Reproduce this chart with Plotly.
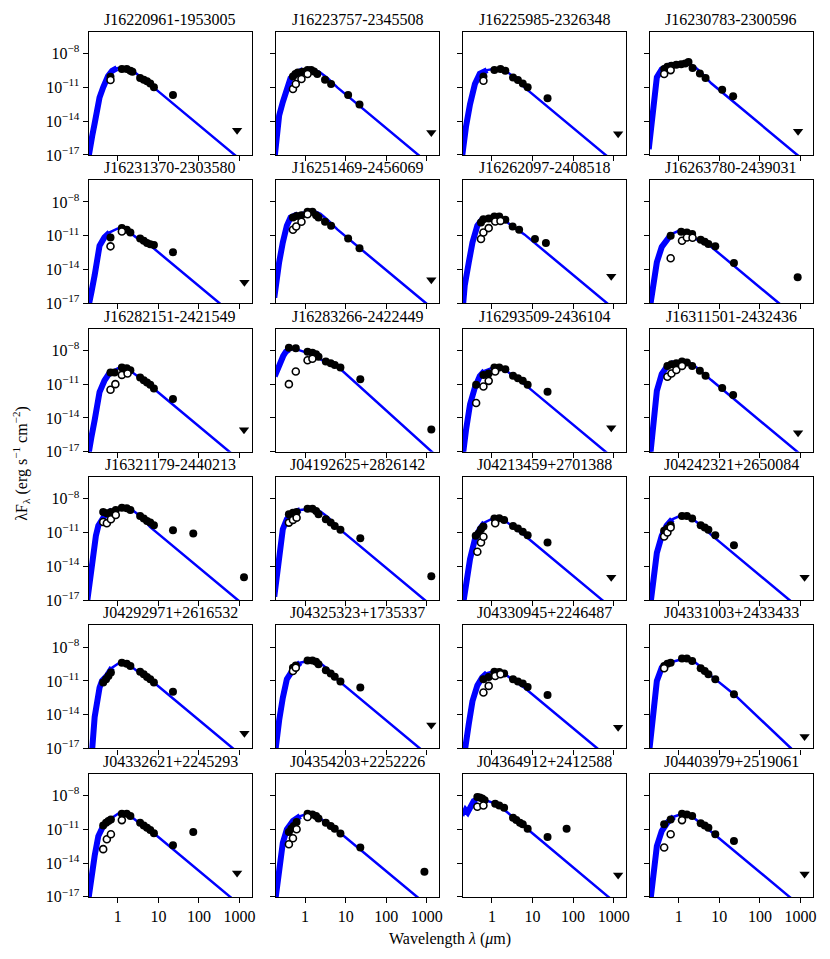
import plotly.graph_objects as go

W, H = 830, 959

TITLES = [
    "J16220961-1953005", "J16223757-2345508", "J16225985-2326348", "J16230783-2300596",
    "J16231370-2303580", "J16251469-2456069", "J16262097-2408518", "J16263780-2439031",
    "J16282151-2421549", "J16283266-2422449", "J16293509-2436104", "J16311501-2432436",
    "J16321179-2440213", "J04192625+2826142", "J04213459+2701388", "J04242321+2650084",
    "J04292971+2616532", "J04325323+1735337", "J04330945+2246487", "J04331003+2433433",
    "J04332621+2245293", "J04354203+2252226", "J04364912+2412588", "J04403979+2519061",
]

# photosphere model curves: log10(wavelength / um), log10(lambda F_lambda)
MODEL_LOGLAM = [
    [-0.74, -0.72, -0.63, -0.57, -0.51, -0.45, -0.36, -0.24, -0.14, -0.02, 0.10, 0.22, 0.36, 0.55, 0.80, 2.88, 2.98],
    [-0.76, -0.73, -0.64, -0.55, -0.45, -0.36, -0.20, -0.05, 0.10, 0.22, 0.36, 0.55, 0.80, 2.79, 2.89],
    [-0.74, -0.71, -0.64, -0.54, -0.42, -0.30, -0.12, 0.10, 0.22, 0.36, 0.55, 0.80, 2.80, 2.90],
    [-0.74, -0.69, -0.60, -0.54, -0.42, -0.18, 0.12, 0.24, 0.38, 0.55, 0.80, 2.92, 3.02],
    [-0.74, -0.72, -0.65, -0.57, -0.51, -0.45, -0.33, -0.20, 0.0, 0.12, 0.26, 0.45, 0.70, 2.51, 2.61],
    [-0.76, -0.73, -0.64, -0.55, -0.45, -0.36, -0.18, 0.12, 0.24, 0.38, 0.55, 0.80, 2.98, 3.08],
    [-0.72, -0.67, -0.57, -0.48, -0.36, -0.24, 0.06, 0.18, 0.32, 0.51, 0.80, 2.84, 2.94],
    [-0.72, -0.69, -0.60, -0.54, -0.42, -0.30, -0.18, 0.0, 0.12, 0.26, 0.45, 0.70, 2.47, 2.57],
    [-0.74, -0.72, -0.65, -0.57, -0.51, -0.45, -0.33, -0.20, 0.04, 0.16, 0.30, 0.49, 0.80, 2.75, 2.85],
    [-0.75, -0.72, -0.66, -0.60, -0.54, -0.47, -0.40, -0.30, -0.15, 0.0, 0.2, 0.45, 0.85, 3.12, 3.3],
    [-0.74, -0.71, -0.64, -0.54, -0.42, -0.30, -0.18, 0.06, 0.18, 0.32, 0.51, 0.80, 2.80, 2.90],
    [-0.72, -0.69, -0.63, -0.54, -0.42, -0.30, -0.12, 0.06, 0.18, 0.32, 0.51, 0.80, 2.92, 3.02],
    [-0.75, -0.72, -0.63, -0.54, -0.48, -0.33, -0.14, 0.10, 0.22, 0.36, 0.55, 0.80, 2.96, 3.06],
    [-0.76, -0.73, -0.64, -0.55, -0.45, -0.30, -0.12, 0.12, 0.24, 0.38, 0.57, 0.80, 2.95, 3.05],
    [-0.74, -0.71, -0.64, -0.54, -0.42, -0.30, -0.18, 0.06, 0.18, 0.32, 0.51, 0.80, 2.72, 2.82],
    [-0.72, -0.69, -0.63, -0.54, -0.42, -0.30, -0.16, 0.06, 0.18, 0.32, 0.51, 0.80, 2.73, 2.83],
    [-0.72, -0.63, -0.57, -0.51, -0.45, -0.39, -0.27, -0.14, 0.04, 0.16, 0.30, 0.49, 0.80, 2.84, 2.94],
    [-0.76, -0.73, -0.64, -0.55, -0.45, -0.30, -0.12, 0.12, 0.24, 0.38, 0.57, 0.80, 2.83, 2.93],
    [-0.70, -0.67, -0.57, -0.48, -0.36, -0.24, -0.12, 0.06, 0.18, 0.32, 0.51, 0.80, 2.60, 2.70],
    [-0.72, -0.69, -0.63, -0.54, -0.42, -0.24, 0.12, 0.24, 0.38, 0.57, 0.80, 1.36, 2.77, 2.87],
    [-0.74, -0.72, -0.63, -0.57, -0.48, -0.36, -0.20, 0.04, 0.16, 0.30, 0.49, 0.80, 2.77, 2.87],
    [-0.76, -0.73, -0.64, -0.55, -0.45, -0.30, -0.12, 0.06, 0.18, 0.32, 0.51, 0.80, 2.76, 2.86],
    [-0.75, -0.72, -0.69, -0.65, -0.60, -0.55, -0.50, -0.45, -0.38, -0.30, -0.18, 0.0, 0.2, 0.4, 0.6, 0.88, 2.87, 2.97],
    [-0.72, -0.69, -0.63, -0.54, -0.42, -0.28, -0.12, 0.08, 0.20, 0.34, 0.53, 0.80, 2.73, 2.83],
]
MODEL_LOGF = [
    [-17.6, -17.0, -15.3, -14.2, -12.8, -11.9, -11.0, -10.0, -9.53, -9.29, -9.24, -9.30, -9.50, -10.03, -10.76, -17.0, -17.3],
    [-17.5, -16.5, -13.5, -12.3, -11.0, -10.2, -9.7, -9.45, -9.38, -9.43, -9.64, -10.17, -11.03, -17.0, -17.3],
    [-17.3, -16.1, -14.5, -12.5, -10.7, -9.8, -9.47, -9.32, -9.36, -9.58, -10.11, -11.0, -17.0, -17.3],
    [-16.5, -14.8, -11.6, -10.1, -9.4, -9.0, -8.88, -8.92, -9.14, -9.67, -10.64, -17.0, -17.3],
    [-17.6, -17.0, -16.0, -14.5, -12.8, -11.9, -11.15, -10.7, -10.35, -10.39, -10.61, -11.14, -11.57, -17.0, -17.3],
    [-16.5, -15.4, -13.35, -11.6, -10.1, -9.38, -9.09, -8.79, -8.83, -9.05, -9.58, -10.46, -17.0, -17.3],
    [-17.5, -15.4, -13.35, -11.6, -10.1, -9.53, -9.38, -9.42, -9.64, -10.17, -10.88, -17.0, -17.3],
    [-17.6, -17.0, -14.8, -13.35, -12.0, -11.3, -10.85, -10.56, -10.6, -10.82, -11.35, -11.69, -17.0, -17.3],
    [-17.6, -17.0, -15.7, -14.2, -12.9, -11.7, -10.7, -9.97, -9.53, -9.57, -9.79, -10.32, -11.15, -17.0, -17.3],
    [-10.3, -10.0, -9.4, -8.9, -8.5, -8.1, -7.92, -7.9, -7.98, -8.15, -8.5, -8.95, -9.6, -17.0, -17.6],
    [-18.0, -17.0, -15.1, -12.8, -11.3, -10.3, -9.82, -9.47, -9.51, -9.73, -10.26, -11.0, -17.0, -17.3],
    [-17.9, -16.9, -14.5, -11.6, -10.1, -9.47, -9.09, -8.94, -8.98, -9.2, -9.73, -10.64, -17.0, -17.3],
    [-17.0, -16.15, -13.06, -11.3, -10.4, -9.53, -9.0, -8.74, -8.78, -9.0, -9.53, -10.52, -17.0, -17.3],
    [-16.7, -15.7, -13.06, -10.7, -9.82, -9.24, -9.0, -8.88, -8.92, -9.14, -9.67, -10.55, -17.0, -17.3],
    [-18.0, -17.0, -15.7, -13.35, -11.6, -10.7, -10.1, -9.68, -9.72, -9.94, -10.47, -11.24, -17.0, -17.3],
    [-18.0, -17.0, -14.8, -12.8, -11.3, -10.4, -9.82, -9.47, -9.51, -9.73, -10.26, -11.21, -17.0, -17.3],
    [-18.0, -17.0, -14.2, -12.5, -11.6, -11.0, -10.56, -9.82, -9.38, -9.42, -9.64, -10.17, -10.88, -17.0, -17.3],
    [-18.0, -17.0, -14.5, -12.5, -10.85, -10.0, -9.38, -9.18, -9.22, -9.44, -9.97, -10.91, -17.0, -17.3],
    [-18.0, -17.0, -14.8, -12.8, -11.4, -10.7, -10.3, -10.12, -10.16, -10.38, -10.91, -11.6, -17.0, -17.3],
    [-17.0, -16.0, -13.06, -11.0, -9.82, -9.38, -9.03, -9.07, -9.29, -9.82, -10.55, -12.18, -17.0, -17.3],
    [-17.6, -17.0, -15.1, -13.35, -11.6, -10.7, -10.12, -9.53, -9.57, -9.79, -10.32, -11.09, -17.0, -17.3],
    [-18.0, -17.0, -14.2, -12.2, -11.0, -10.26, -9.82, -9.62, -9.66, -9.88, -10.41, -11.12, -17.0, -17.3],
    [-9.8, -9.4, -9.6, -9.3, -9.5, -9.1, -8.7, -8.5, -8.4, -8.35, -8.40, -8.6, -9.0, -9.55, -10.2, -11.0, -17.0, -17.3],
    [-18.0, -17.0, -14.8, -12.5, -11.15, -10.4, -9.88, -9.62, -9.66, -9.88, -10.41, -11.21, -17.0, -17.3],
]

# detections (filled circles)
FILLED_LOGLAM = [
    [-0.18, 0.10, 0.22, 0.31, 0.36, 0.55, 0.64, 0.72, 0.80, 0.89, 1.36],
    [-0.30, -0.24, -0.18, -0.06, 0.06, 0.15, 0.22, 0.30, 0.49, 0.64, 1.06, 1.34],
    [-0.21, 0.06, 0.21, 0.33, 0.52, 0.64, 0.76, 0.88, 1.37],
    [-0.36, -0.28, -0.18, -0.06, 0.06, 0.16, 0.24, 0.34, 0.52, 0.66, 1.07, 1.34],
    [-0.18, 0.10, 0.22, 0.31, 0.55, 0.64, 0.72, 0.80, 0.89, 1.36],
    [-0.30, -0.21, -0.09, 0.06, 0.18, 0.27, 0.33, 0.49, 0.64, 1.06, 1.34],
    [-0.27, -0.21, -0.08, 0.06, 0.18, 0.33, 0.51, 0.67, 1.06, 1.33],
    [-0.20, 0.06, 0.20, 0.33, 0.54, 0.64, 0.73, 0.90, 1.36, 2.93],
    [-0.18, -0.08, 0.10, 0.22, 0.31, 0.55, 0.64, 0.72, 0.80, 0.89, 1.36],
    [-0.40, -0.23, 0.06, 0.18, 0.27, 0.33, 0.51, 0.63, 0.73, 0.87, 1.36, 3.11],
    [-0.39, -0.21, -0.08, 0.06, 0.18, 0.33, 0.52, 0.64, 0.76, 0.88, 1.37],
    [-0.28, -0.18, -0.06, 0.08, 0.20, 0.33, 0.52, 0.66, 1.07, 1.34],
    [-0.36, -0.27, -0.17, -0.05, 0.10, 0.22, 0.31, 0.55, 0.64, 0.72, 0.80, 0.89, 1.36, 1.86, 3.11],
    [-0.40, -0.30, -0.21, 0.06, 0.18, 0.27, 0.33, 0.51, 0.63, 0.73, 0.87, 1.36, 3.11],
    [-0.40, -0.33, -0.27, -0.21, 0.06, 0.18, 0.30, 0.52, 0.64, 0.76, 0.88, 1.37],
    [-0.36, -0.28, -0.20, 0.08, 0.20, 0.33, 0.54, 0.64, 0.73, 0.90, 1.36],
    [-0.36, -0.29, -0.23, -0.17, 0.10, 0.22, 0.31, 0.55, 0.64, 0.72, 0.80, 0.89, 1.36],
    [-0.30, -0.23, 0.06, 0.18, 0.27, 0.33, 0.51, 0.63, 0.73, 0.87, 1.36],
    [-0.21, -0.08, 0.06, 0.18, 0.30, 0.52, 0.64, 0.76, 0.88, 1.37],
    [-0.36, -0.28, -0.20, 0.08, 0.20, 0.33, 0.54, 0.64, 0.73, 0.90, 1.36],
    [-0.36, -0.29, -0.23, -0.17, 0.10, 0.22, 0.31, 0.55, 0.64, 0.72, 0.80, 0.89, 1.36, 1.86],
    [-0.40, -0.34, -0.28, -0.21, 0.06, 0.18, 0.27, 0.33, 0.51, 0.63, 0.73, 0.87, 1.36, 2.94],
    [-0.36, -0.30, -0.24, -0.18, 0.08, 0.18, 0.30, 0.52, 0.60, 0.69, 0.76, 0.88, 1.37, 1.84],
    [-0.36, -0.20, 0.08, 0.20, 0.33, 0.54, 0.64, 0.73, 0.90, 1.36],
]
FILLED_LOGF = [
    [-10.06, -9.38, -9.38, -9.53, -9.62, -10.18, -10.32, -10.47, -10.65, -11.0, -11.68],
    [-10.03, -9.82, -9.68, -9.62, -9.47, -9.47, -9.59, -9.82, -10.32, -10.71, -11.68, -12.53],
    [-10.03, -9.47, -9.38, -9.53, -10.12, -10.35, -10.65, -11.0, -11.97],
    [-9.38, -9.18, -9.09, -9.0, -8.94, -8.88, -8.74, -9.29, -9.76, -10.18, -11.21, -11.79],
    [-11.15, -10.32, -10.47, -10.71, -11.24, -11.44, -11.65, -11.76, -11.82, -12.47],
    [-9.38, -9.24, -9.18, -8.88, -8.88, -9.18, -9.38, -9.76, -10.12, -11.24, -12.12],
    [-9.82, -9.53, -9.47, -9.29, -9.29, -9.59, -10.18, -10.47, -11.29, -11.65],
    [-11.0, -10.65, -10.71, -10.85, -11.35, -11.53, -11.74, -11.94, -13.41, -14.68],
    [-9.97, -9.97, -9.53, -9.59, -9.76, -10.41, -10.65, -10.85, -11.06, -11.38, -12.32],
    [-7.76, -7.82, -8.12, -8.21, -8.35, -8.56, -9.0, -9.15, -9.29, -9.53, -10.56, -15.03],
    [-11.06, -10.18, -10.06, -9.53, -9.53, -9.68, -10.26, -10.47, -10.71, -11.06, -11.68],
    [-9.38, -9.24, -9.15, -9.0, -9.09, -9.38, -9.82, -10.26, -11.35, -11.97],
    [-9.18, -9.29, -9.18, -9.0, -8.79, -8.85, -9.0, -9.53, -9.76, -9.97, -10.12, -10.35, -10.79, -11.09, -14.97],
    [-9.38, -9.24, -9.18, -8.88, -8.88, -9.09, -9.38, -9.82, -10.12, -10.41, -10.76, -11.5, -14.88],
    [-11.29, -11.09, -10.71, -10.47, -9.76, -9.74, -9.88, -10.41, -10.65, -10.94, -11.24, -11.88],
    [-10.85, -10.65, -10.35, -9.53, -9.53, -9.76, -10.35, -10.56, -10.76, -11.24, -12.12],
    [-11.15, -10.85, -10.56, -10.26, -9.38, -9.47, -9.68, -10.18, -10.41, -10.65, -10.85, -11.15, -11.97],
    [-9.82, -9.62, -9.18, -9.18, -9.29, -9.53, -10.06, -10.35, -10.62, -11.06, -11.59],
    [-10.85, -10.65, -10.18, -10.21, -10.35, -10.85, -11.06, -11.24, -11.53, -12.26],
    [-9.68, -9.47, -9.38, -9.0, -9.0, -9.24, -9.88, -10.12, -10.41, -10.85, -12.18],
    [-10.65, -10.41, -10.26, -10.12, -9.62, -9.62, -9.82, -10.41, -10.65, -10.85, -11.06, -11.35, -12.41, -11.24],
    [-11.24, -10.94, -10.71, -10.35, -9.62, -9.68, -9.82, -10.03, -10.41, -10.71, -10.94, -11.38, -12.62, -14.76],
    [-8.12, -8.18, -8.26, -8.41, -8.74, -8.88, -9.09, -9.97, -10.18, -10.41, -10.56, -10.94, -11.68, -10.94],
    [-10.56, -10.12, -9.62, -9.68, -9.82, -10.47, -10.65, -10.85, -11.44, -12.03],
]

# open circles
OPEN_LOGLAM = [
    [-0.18], [-0.30, -0.23, -0.09, 0.06], [-0.21], [-0.36, -0.20],
    [-0.18, 0.10], [-0.30, -0.22, -0.09, 0.06], [-0.27, -0.21, -0.08, 0.08, 0.21], [-0.20, 0.08, 0.20, 0.34],
    [-0.18, -0.06, 0.10, 0.24], [-0.40, -0.23, 0.06, 0.18], [-0.39, -0.21, -0.08, 0.08], [-0.28, -0.18, -0.06, 0.08],
    [-0.36, -0.27, -0.17, -0.05], [-0.40, -0.30, -0.21], [-0.36, -0.27, -0.21, 0.08], [-0.36, -0.28, -0.20],
    [], [-0.30, -0.23], [-0.21, -0.08, 0.08, 0.21], [-0.36],
    [-0.36, -0.27, -0.17, 0.10], [-0.40, -0.30, -0.21, 0.06], [-0.36, -0.21], [-0.36, -0.20, 0.08],
]
OPEN_LOGF = [
    [-10.35], [-11.15, -10.71, -10.26, -9.82], [-10.41], [-9.82, -9.47],
    [-11.94, -10.62], [-10.47, -10.18, -9.76, -9.09], [-11.29, -10.71, -10.32, -9.74, -9.68], [-13.0, -11.44, -11.15, -11.18],
    [-11.5, -11.0, -10.18, -10.06], [-11.0, -9.88, -8.88, -8.74], [-12.68, -11.21, -10.71, -9.88], [-10.35, -10.06, -9.74, -9.38],
    [-10.06, -10.18, -9.82, -9.44], [-10.12, -9.88, -9.68], [-12.71, -11.88, -11.38, -10.18], [-11.35, -11.0, -10.56],
    [], [-10.12, -9.82], [-12.03, -11.44, -10.56, -10.41], [-9.88],
    [-12.76, -11.88, -11.44, -10.18], [-12.32, -11.79, -11.0, -9.91], [-9.0, -8.88], [-12.62, -11.44, -10.18],
]

# upper limits (downward triangles)
LIMIT_LOGLAM = [
    [2.94], [3.11], [3.11], [2.94],
    [3.12], [3.11], [2.94], [],
    [3.11], [], [2.94], [2.94],
    [], [], [2.94], [3.10],
    [3.12], [3.11], [3.11], [3.10],
    [2.94], [], [3.11], [3.10],
]
LIMIT_LOGF = [
    [-14.8], [-15.0], [-15.12], [-14.91],
    [-15.12], [-14.91], [-14.59], [],
    [-15.06], [], [-14.88], [-15.32],
    [], [], [-14.97], [-14.97],
    [-15.65], [-14.91], [-15.12], [-15.94],
    [-14.88], [], [-15.06], [-14.97],
]

X_TICKS = [1, 10, 100, 1000]
X_TICKTEXT = ["1", "10", "100", "1000"]
Y_TICKS = [1e-8, 1e-11, 1e-14, 1e-17]
Y_TICKTEXT = ["10<sup>\u22128</sup>", "10<sup>\u221211</sup>", "10<sup>\u221214</sup>", "10<sup>\u221217</sup>"]

FONT = "Liberation Serif"
COL_LEFT = [81, 269, 456.5, 644]
PANEL_W = 164
ROW_TOP = [24 + 149.8 * k for k in range(6)]
PANEL_H = 124.3
BLUE = "#0000ff"


def lin(vals):
    return [10 ** v for v in vals]


fig = go.Figure()
layout = dict(
    width=W, height=H, margin=dict(l=0, r=0, t=0, b=0),
    paper_bgcolor="white", plot_bgcolor="white", showlegend=False,
    font=dict(family=FONT, size=16, color="black"),
)
annotations = []

for i in range(24):
    r, c = divmod(i, 4)
    sfx = "" if i == 0 else str(i + 1)
    xa, ya = "x" + sfx, "y" + sfx
    x0 = COL_LEFT[c] / W
    x1 = (COL_LEFT[c] + PANEL_W) / W
    y1 = 1 - ROW_TOP[r] / H
    y0 = 1 - (ROW_TOP[r] + PANEL_H) / H
    common = dict(showline=True, mirror=True, linecolor="black", linewidth=1.3,
                  ticks="outside", ticklen=5, tickwidth=1.2, tickcolor="black",
                  showgrid=False, zeroline=False, type="log",
                  tickfont=dict(family=FONT, size=16, color="black"))
    layout["xaxis" + sfx] = dict(common, domain=[x0, x1], anchor=ya,
                                 range=[-0.717, 3.31], tickvals=X_TICKS, ticktext=X_TICKTEXT,
                                 showticklabels=(r == 5))
    layout["yaxis" + sfx] = dict(common, domain=[y0, y1], anchor=xa,
                                 range=[-17, -6.065], tickvals=Y_TICKS, ticktext=Y_TICKTEXT,
                                 showticklabels=(c == 0))

    ml, mf = MODEL_LOGLAM[i], MODEL_LOGF[i]
    k = mf.index(max(mf))
    # broad (line-blanketed) rising short-wavelength part of the photosphere model
    fig.add_trace(go.Scatter(x=lin(ml[:k]), y=lin(mf[:k]), mode="lines",
                             line=dict(color=BLUE, width=6), xaxis=xa, yaxis=ya,
                             hoverinfo="skip"))
    fig.add_trace(go.Scatter(x=lin(ml), y=lin(mf), mode="lines",
                             line=dict(color=BLUE, width=2.5), xaxis=xa, yaxis=ya))
    fig.add_trace(go.Scatter(x=lin(FILLED_LOGLAM[i]), y=lin(FILLED_LOGF[i]), mode="markers",
                             marker=dict(color="black", size=8, symbol="circle"),
                             xaxis=xa, yaxis=ya, cliponaxis=False))
    if OPEN_LOGLAM[i]:
        fig.add_trace(go.Scatter(x=lin(OPEN_LOGLAM[i]), y=lin(OPEN_LOGF[i]), mode="markers",
                                 marker=dict(color="white", size=7, symbol="circle",
                                             line=dict(color="black", width=1.6)),
                                 xaxis=xa, yaxis=ya))
    if LIMIT_LOGLAM[i]:
        fig.add_trace(go.Scatter(x=lin(LIMIT_LOGLAM[i]), y=lin(LIMIT_LOGF[i]), mode="markers",
                                 marker=dict(color="black", size=9, symbol="triangle-down"),
                                 xaxis=xa, yaxis=ya))

    annotations.append(dict(text=TITLES[i], xref="paper", yref="paper",
                            x=(x0 + x1) / 2, y=y1 + 2 / H, xanchor="center", yanchor="bottom",
                            showarrow=False, font=dict(family=FONT, size=16, color="black")))

annotations.append(dict(text="Wavelength <i>\u03bb</i> (<i>\u03bc</i>m)", xref="paper", yref="paper",
                        x=444 / W, y=1 - 940 / H, xanchor="center", yanchor="middle",
                        showarrow=False, font=dict(family=FONT, size=16, color="black")))
annotations.append(dict(text="\u03bbF<sub>\u03bb</sub> (erg s<sup>\u22121</sup> cm<sup>\u22122</sup>)",
                        xref="paper", yref="paper", x=13 / W, y=1 - 460 / H,
                        xanchor="center", yanchor="middle", textangle=-90,
                        showarrow=False, font=dict(family=FONT, size=16, color="black")))
layout["annotations"] = annotations
fig.update_layout(**layout)
fig.write_html("out.html")
